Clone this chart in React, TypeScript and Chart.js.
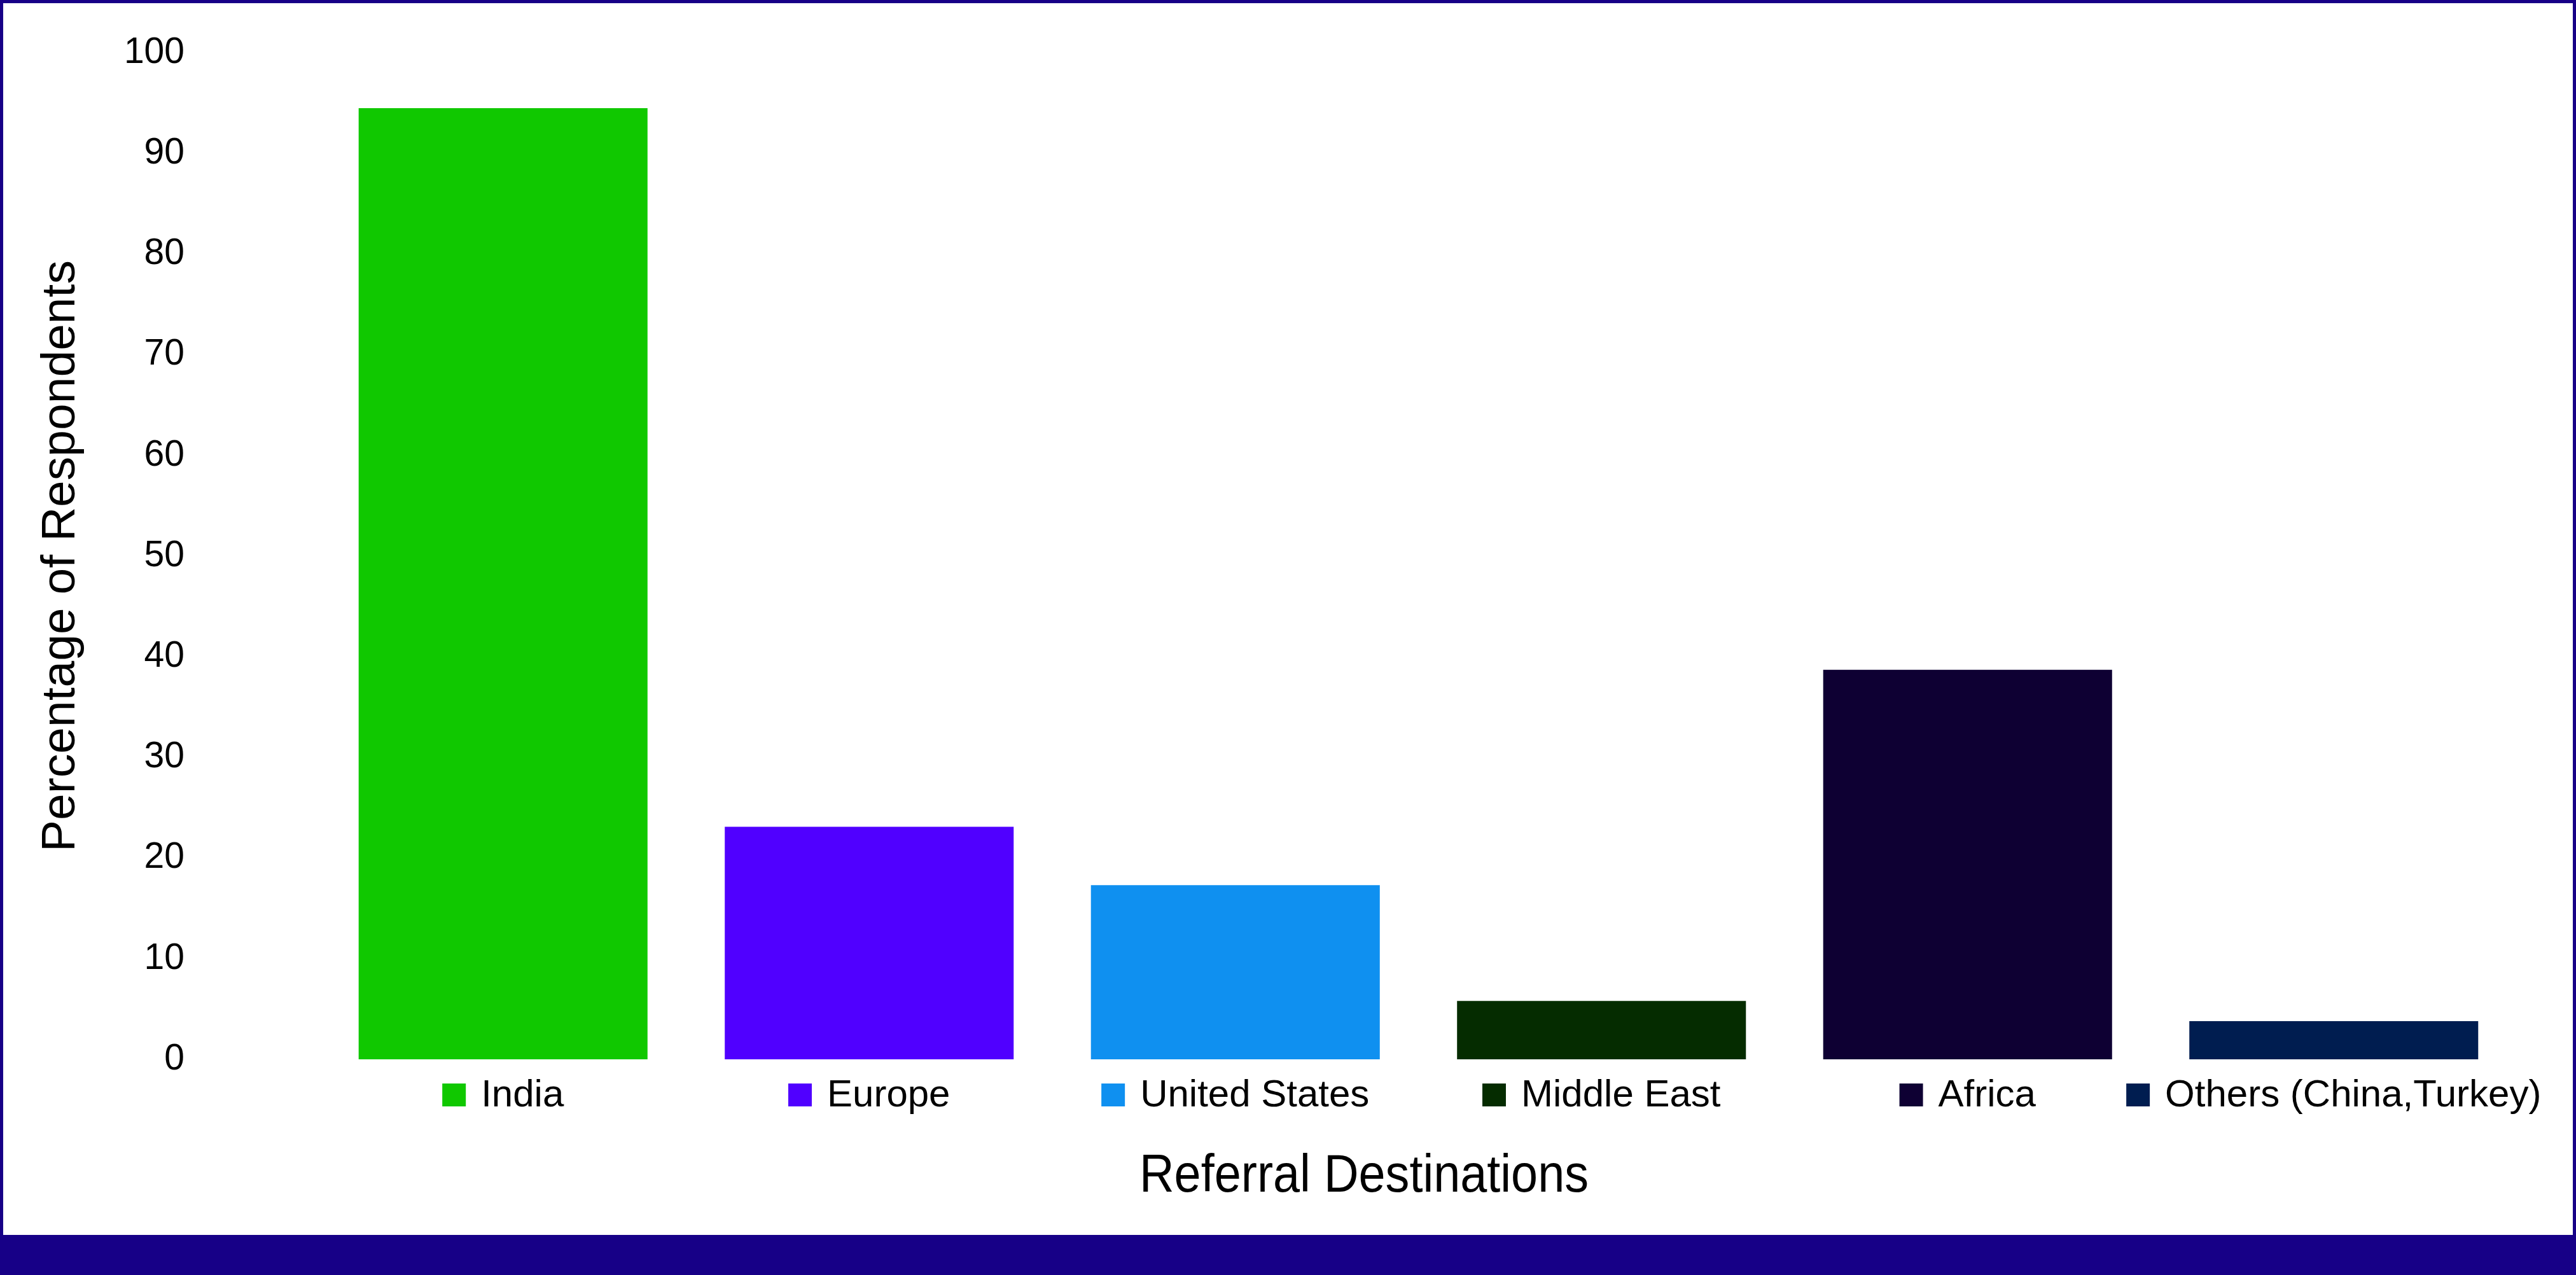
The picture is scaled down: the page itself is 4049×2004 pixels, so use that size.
import React, { useEffect, useRef } from "react";
import { Chart, registerables } from "chart.js";

Chart.register(...registerables);

const categories = ["India", "Europe", "United States", "Middle East", "Africa", "Others (China,Turkey)"];
const values = [94.5, 23.1, 17.3, 5.8, 38.7, 3.8];
const barColors = ["#10c800", "#5000ff", "#0f90f0", "#052c00", "#0e0033", "#001d50"];
const yMin = 0;
const yMax = 100;
const yStep = 10;
const xTitle = "Referral Destinations";
const yTitle = "Percentage of Respondents";

const W = 4049;
const H = 2004;
const FRAME = "#170087";

const labelPlugin = {
  id: "catLabels",
  afterDraw(chart: any) {
    const ctx = chart.ctx as CanvasRenderingContext2D;
    const xs = chart.scales.x;
    const area = chart.chartArea;
    ctx.save();
    ctx.font = "60px 'Liberation Sans', Arial, sans-serif";
    ctx.textBaseline = "alphabetic";
    ctx.textAlign = "left";
    const baseline = area.bottom + 74;
    const sq = 37;
    const gap = 24;
    categories.forEach((c, i) => {
      const cx = xs.getPixelForValue(i);
      const tw = ctx.measureText(c).width;
      const total = sq + gap + tw;
      const left = cx - total / 2;
      ctx.fillStyle = barColors[i];
      ctx.fillRect(left, baseline - 36, sq, 36);
      ctx.fillStyle = "#000";
      ctx.fillText(c, left + sq + gap, baseline);
    });
    // x axis title (condensed look)
    ctx.font = "84px 'Liberation Sans', Arial, sans-serif";
    const m = ctx.measureText(xTitle).width;
    const target = 706;
    const sx = target / m;
    ctx.translate(1791, area.bottom + 208);
    ctx.scale(sx, 1);
    ctx.fillText(xTitle, 0, 0);
    ctx.restore();
  },
};

export default function App() {
  const ref = useRef<HTMLCanvasElement | null>(null);
  useEffect(() => {
    if (!ref.current) return;
    const chart = new Chart(ref.current, {
      type: "bar",
      data: {
        labels: categories,
        datasets: [
          {
            data: values,
            backgroundColor: barColors,
            borderWidth: 0,
            categoryPercentage: 1,
            barPercentage: 0.789,
          },
        ],
      },
      options: {
        animation: false,
        responsive: false,
        devicePixelRatio: 1,
        layout: { padding: { top: 83, right: 93, left: 0, bottom: 339 } },
        plugins: { legend: { display: false }, tooltip: { enabled: false } },
        scales: {
          x: {
            type: "category",
            display: false,
            grid: { display: false, drawTicks: false },
            border: { display: false },
            ticks: { display: false },
          },
          y: {
            min: yMin,
            max: yMax,
            grid: { display: false, drawTicks: false },
            border: { display: false },
            ticks: {
              stepSize: yStep,
              padding: 213,
              color: "#000",
              font: { family: "'Liberation Sans', Arial, sans-serif", size: 57 },
            },
            title: {
              display: true,
              text: yTitle,
              color: "#000",
              font: { family: "'Liberation Sans', Arial, sans-serif", size: 75 },
              padding: { top: 51, bottom: 0 },
            },
            afterFit: (s: any) => {
              s.width = 503;
              s.paddingTop = 0;
              s.paddingBottom = 0;
            },
          },
        },
      },
      plugins: [labelPlugin],
    });
    return () => chart.destroy();
  }, []);

  return (
    <div style={{ position: "absolute", left: 0, top: 0, width: W, height: H, background: FRAME, overflow: "hidden" }}>
      <div style={{ position: "absolute", left: 5, top: 5, width: W - 10, height: 1936, background: "#fff" }} />
      <canvas ref={ref} width={W} height={H} style={{ position: "absolute", left: 0, top: 0, width: W, height: H }} />
    </div>
  );
}
